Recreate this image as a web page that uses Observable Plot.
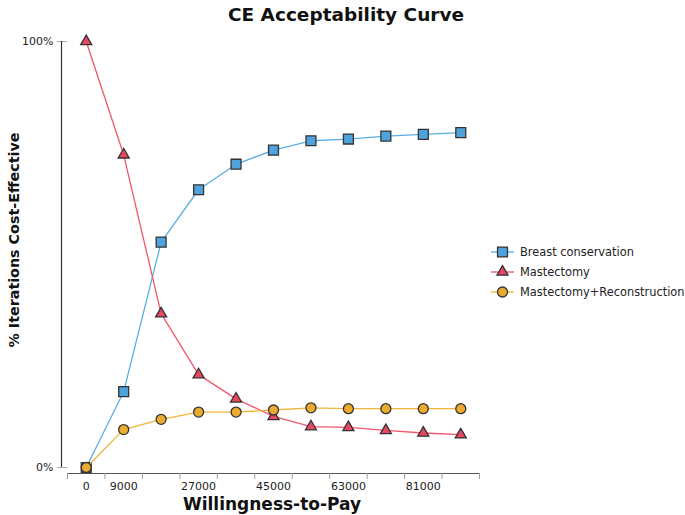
<!DOCTYPE html>
<html>
<head>
<meta charset="utf-8">
<script src="https://cdn.jsdelivr.net/npm/d3@7"></script>
<script src="https://cdn.jsdelivr.net/npm/@observablehq/plot@0.6"></script>
<style>
  html, body { margin: 0; padding: 0; background: #fff; }
  #chart svg { display: block; }
</style>
</head>
<body>
<div id="chart"></div>
<script>
// ---- data ----
const wtp = [0, 9000, 18000, 27000, 36000, 45000, 54000, 63000, 72000, 81000, 90000];
const breastConservation = [0, 17.8, 52.9, 65.2, 71.2, 74.5, 76.7, 77.1, 77.8, 78.2, 78.6];
const mastectomy = [100, 73.4, 36.1, 21.8, 16.1, 12.0, 9.6, 9.4, 8.7, 8.1, 7.7];
const mastectomyReconstruction = [0, 8.9, 11.3, 13.0, 13.0, 13.5, 14.0, 13.8, 13.8, 13.8, 13.8];
const seriesNames = ["Breast conservation", "Mastectomy", "Mastectomy+Reconstruction"];
const xTickLabels = [0, 9000, 27000, 45000, 63000, 81000];
const yTickLabels = [0, 100];

// ---- styles ----
const fill = {"Breast conservation": "#4ea3dc", "Mastectomy": "#e9475f", "Mastectomy+Reconstruction": "#eaab2f"};
const lineCol = {"Breast conservation": "#5aaee3", "Mastectomy": "#f0566c", "Mastectomy+Reconstruction": "#f0b43c"};
const symbolOf = {"Breast conservation": "square", "Mastectomy": "triangle", "Mastectomy+Reconstruction": "circle"};
const rOf = {"Breast conservation": 5.6, "Mastectomy": 4.1, "Mastectomy+Reconstruction": 5};
const font = "'DejaVu Sans', Verdana, sans-serif";

const valuesBySeries = [breastConservation, mastectomy, mastectomyReconstruction];
const rows = seriesNames.flatMap((s, k) => wtp.map((x, i) => ({series: s, x, y: valuesBySeries[k][i]})));

const step = wtp[1] - wtp[0];
const xDomain = [wtp[0] - step / 2, wtp[wtp.length - 1] + step / 2];
const boundaries = wtp.map(d => d - step / 2).concat([wtp[wtp.length - 1] + step / 2]);

const seriesMarks = seriesNames.flatMap(s => {
  const data = rows.filter(d => d.series === s);
  return [
    Plot.line(data, {x: "x", y: "y", stroke: lineCol[s], strokeWidth: 1.3}),
    Plot.dot(data, {x: "x", y: "y", symbol: () => symbolOf[s], r: rOf[s], fill: fill[s], stroke: "#333", strokeWidth: 1.3})
  ];
});

const chart = Plot.plot({
  width: 685,
  height: 515,
  marginTop: 41,
  marginBottom: 42,
  marginLeft: 67,
  marginRight: 206,
  insetBottom: 6,
  style: {fontFamily: font, fontSize: "11px", color: "#222", background: "#fff"},
  x: {domain: xDomain},
  y: {domain: [0, 100]},
  symbol: {type: "identity"},
  marks: [
    Plot.frame({anchor: "bottom", stroke: "#555"}),
    Plot.axisX({ticks: boundaries, tickSize: 6, tickFormat: () => "", stroke: "#999", label: null}),
    Plot.axisX({ticks: xTickLabels, tickSize: 0, tickPadding: 9, tickFormat: d => String(d), label: null, fill: "#222"}),
    Plot.axisY({ticks: yTickLabels, tickSize: 10, tickPadding: 4, tickFormat: d => d + "%", stroke: "#aaa", label: null, fill: "#222"}),
    Plot.ruleX([xDomain[0]], {y1: 0, y2: 100, dx: -6, stroke: "#333", strokeWidth: 1.2}),
    ...seriesMarks
  ]
});

document.getElementById("chart").appendChild(chart);

// ---- title, axis labels, legend ----
const svg = d3.select(chart);
svg.append("text").text("CE Acceptability Curve")
  .attr("x", 346).attr("y", 14).attr("text-anchor", "middle").attr("dominant-baseline", "central")
  .attr("font-family", font).attr("font-weight", "bold").attr("font-size", 18.5).attr("fill", "#111");
svg.append("text").text("Willingness-to-Pay")
  .attr("x", 272).attr("y", 504).attr("text-anchor", "middle").attr("dominant-baseline", "central")
  .attr("font-family", font).attr("font-weight", "bold").attr("font-size", 17).attr("fill", "#111");
svg.append("text").text("% Iterations Cost-Effective")
  .attr("transform", "translate(14,240) rotate(-90)").attr("text-anchor", "middle").attr("dominant-baseline", "central")
  .attr("font-family", font).attr("font-weight", "bold").attr("font-size", 14.3).attr("fill", "#111");

const d3sym = {square: d3.symbolSquare, triangle: d3.symbolTriangle, circle: d3.symbolCircle};
const legend = svg.append("g").attr("transform", "translate(491,252)");
seriesNames.forEach((s, i) => {
  const g = legend.append("g").attr("transform", `translate(0,${i * 20})`);
  g.append("line").attr("x1", 0).attr("x2", 23).attr("y1", 0).attr("y2", 0)
    .attr("stroke", lineCol[s]).attr("stroke-width", 1.3);
  g.append("path").attr("d", d3.symbol(d3sym[symbolOf[s]], Math.PI * rOf[s] * rOf[s])())
    .attr("transform", "translate(11.5,0)").attr("fill", fill[s]).attr("stroke", "#333").attr("stroke-width", 1.3);
  g.append("text").text(s).attr("x", 29).attr("y", 0).attr("dominant-baseline", "central")
    .attr("text-anchor", "start")
    .attr("font-family", font).attr("font-size", 11.4).attr("fill", "#222");
});
</script>
</body>
</html>
